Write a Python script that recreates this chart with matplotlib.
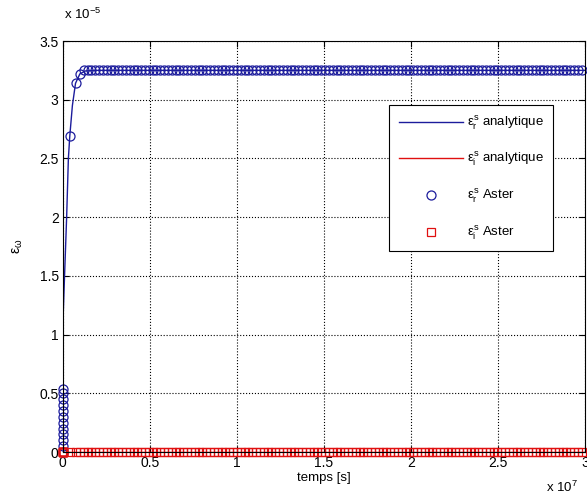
import numpy as np
from matplotlib import pyplot as plt
from matplotlib.ticker import FuncFormatter, MultipleLocator

# analytic solution
t_ana = [0, 3e4, 1e5, 2.2e5, 3.2e5, 4e5, 5.5e5, 7.3e5, 9.8e5, 1.3e6, 2e6, 3e7]
eps_r_ana = [0.95e-5, 1.2e-5, 1.5e-5, 2.0e-5, 2.5e-5, 2.69e-5, 2.95e-5,
             3.14e-5, 3.22e-5, 3.245e-5, 3.25e-5, 3.25e-5]
eps_i_ana = [0.0] * len(t_ana)

# Aster results: very small times first, then the regular archive times
t_start = [0, 1e3, 2e3, 3e3, 4e3, 5e3, 6e3, 7e3, 8e3, 9e3, 1e4, 1.1e4]
eps_r_start = [0.0, 0.05e-5, 0.10e-5, 0.15e-5, 0.20e-5, 0.25e-5, 0.30e-5,
               0.35e-5, 0.40e-5, 0.45e-5, 0.50e-5, 0.54e-5]
t_rise = [4.0e5, 7.3e5, 9.8e5]
eps_r_rise = [2.69e-5, 3.14e-5, 3.22e-5]
t_plateau = list(np.arange(1.2e6, 3.0e7 + 1, 2.2e5))
eps_r_plateau = [3.25e-5] * len(t_plateau)

t_aster = t_start + t_rise + t_plateau
eps_r_aster = eps_r_start + eps_r_rise + eps_r_plateau
eps_i_aster = [0.0] * len(t_aster)

blue = '#1c1c9c'
red = '#e01010'

plt.rcParams['font.family'] = ['Liberation Sans', 'DejaVu Sans']
plt.rcParams['mathtext.fontset'] = 'custom'
plt.rcParams['mathtext.rm'] = 'Liberation Sans'
plt.rcParams['mathtext.it'] = 'Liberation Sans'

fig = plt.figure(figsize=(5.87, 4.97), dpi=100)
ax = fig.add_axes([0.107, 0.0905, 0.89, 0.827])

ax.plot(t_ana, eps_r_ana, color=blue, lw=1.0,
        label=r'$\varepsilon_\mathrm{r}^\mathrm{s}$ analytique')
ax.plot(t_ana, eps_i_ana, color=red, lw=1.0,
        label=r'$\varepsilon_\mathrm{i}^\mathrm{s}$ analytique')
ax.plot(t_aster, eps_r_aster, 'o', color=blue, mfc='none', ms=6.5, mew=0.9,
        clip_on=False, label=r'$\varepsilon_\mathrm{r}^\mathrm{s}$ Aster')
ax.plot(t_aster, eps_i_aster, 's', color=red, mfc='none', ms=6, mew=0.9,
        clip_on=False, label=r'$\varepsilon_\mathrm{i}^\mathrm{s}$ Aster')

ax.set_xlim(0, 3e7)
ax.set_ylim(0, 3.5e-5)
ax.xaxis.set_major_locator(MultipleLocator(0.5e7))
ax.yaxis.set_major_locator(MultipleLocator(0.5e-5))
ax.xaxis.set_major_formatter(FuncFormatter(lambda v, p: '%g' % round(v / 1e7, 3)))
ax.yaxis.set_major_formatter(FuncFormatter(lambda v, p: '%g' % round(v / 1e-5, 3)))

ax.grid(True, color='black', linestyle=':', linewidth=0.8)
ax.tick_params(axis='both', direction='in', length=4, labelsize=10,
               top=True, right=True, pad=3)
for s in ax.spines.values():
    s.set_linewidth(0.8)

ax.set_xlabel('temps [s]', fontsize=9.5, labelpad=1)
ax.set_ylabel(r'$\varepsilon_\omega$', fontsize=10, labelpad=10)

# exponent labels like matlab
fig.text(0.109, 0.955, r'x $\mathrm{10^{-5}}$', fontsize=9.5, ha='left', va='bottom')
fig.text(0.985, 0.005, r'x $\mathrm{10^{7}}$', fontsize=9.5, ha='right', va='bottom')

leg = ax.legend(loc='upper right', bbox_to_anchor=(0.939, 0.844), fontsize=9.5,
                fancybox=False, edgecolor='black', framealpha=1,
                borderpad=0.7, labelspacing=1.45, handlelength=4.9,
                handletextpad=0.3, borderaxespad=0)
leg.get_frame().set_linewidth(0.8)

plt.savefig('out.png', dpi=100)
